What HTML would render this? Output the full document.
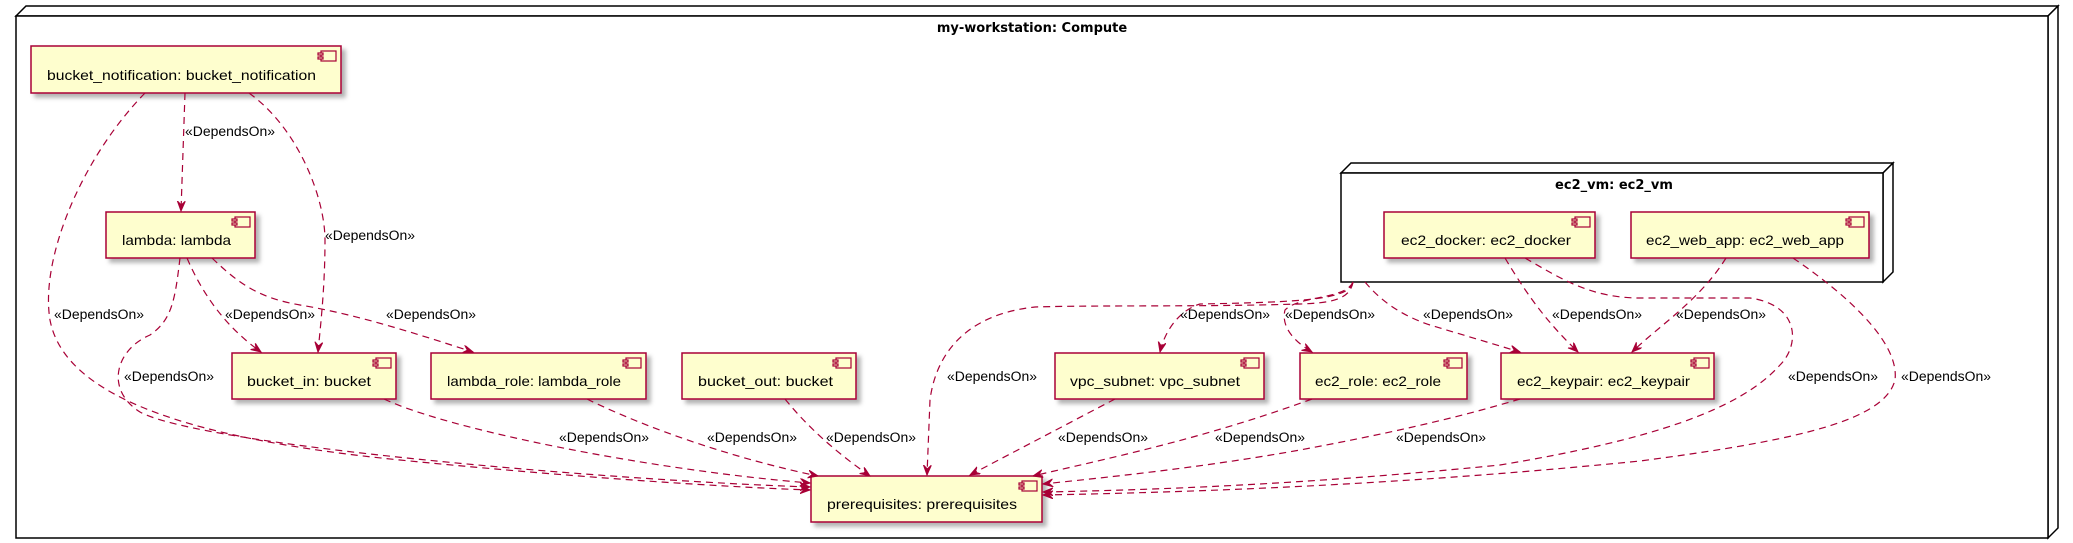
<!DOCTYPE html>
<html><head><meta charset="utf-8"><style>
html,body{margin:0;padding:0;background:#fff;}
svg{display:block;}
.t{font-family:"Liberation Sans","DejaVu Sans",sans-serif;font-size:14px;fill:#000;}
.l{font-family:"Liberation Sans","DejaVu Sans",sans-serif;font-size:13.5px;fill:#000;}
.b{font-family:"DejaVu Sans","Liberation Sans",sans-serif;font-size:13px;font-weight:bold;fill:#000;}
.e{fill:none;stroke:#A80036;stroke-width:1.2;stroke-dasharray:7,5;marker-end:url(#ah);}
.box{fill:#FEFECE;stroke:#A80036;stroke-width:1.5;filter:url(#sh);}
.ic{fill:#FEFECE;stroke:#A80036;stroke-width:1.2;}
</style></head><body>
<svg width="2073" height="543" viewBox="0 0 2073 543" xmlns="http://www.w3.org/2000/svg">
<defs>
<filter id="sh" x="-5%" y="-10%" width="115%" height="140%"><feDropShadow dx="4" dy="4" stdDeviation="2" flood-color="#000" flood-opacity="0.3"/></filter>
<marker id="ah" markerUnits="userSpaceOnUse" markerWidth="12" markerHeight="10" refX="10" refY="4" orient="auto"><path d="M0,0 L10,4 L0,8 L4,4 z" fill="#A80036" stroke="#A80036" stroke-width="1"/></marker>
<symbol id="icon" overflow="visible"><rect class="ic" x="3" y="0" width="15" height="10"/><rect class="ic" x="0" y="2" width="5" height="2"/><rect class="ic" x="0" y="6" width="5" height="2"/></symbol>
</defs>
<!-- outer node -->
<polygon points="16,16 26,6 2058,6 2048,16" fill="#fff" stroke="#000" stroke-width="1.5"/>
<polygon points="2048,16 2058,6 2058,528 2048,538" fill="#fff" stroke="#000" stroke-width="1.5"/>
<rect x="16" y="16" width="2032" height="522" fill="#fff" stroke="#000" stroke-width="1.5"/>
<text class="b" x="1032" y="32" text-anchor="middle">my-workstation: Compute</text>
<!-- ec2_vm node -->
<polygon points="1341,173 1351,163 1893,163 1883,173" fill="#fff" stroke="#000" stroke-width="1.5"/>
<polygon points="1883,173 1893,163 1893,272 1883,282" fill="#fff" stroke="#000" stroke-width="1.5"/>
<rect x="1341" y="173" width="542" height="109" fill="#fff" stroke="#000" stroke-width="1.5"/>
<text class="b" x="1614" y="189" text-anchor="middle">ec2_vm: ec2_vm</text>

<!-- boxes -->
<g>
<rect class="box" x="31" y="46" width="310" height="47"/><use href="#icon" x="318" y="51"/>
<text class="t" x="47" y="80" textLength="269" lengthAdjust="spacingAndGlyphs">bucket_notification: bucket_notification</text>
<rect class="box" x="106" y="212" width="149" height="46"/><use href="#icon" x="232" y="217"/>
<text class="t" x="122" y="245" textLength="109" lengthAdjust="spacingAndGlyphs">lambda: lambda</text>
<rect class="box" x="232" y="353" width="164" height="46"/><use href="#icon" x="373" y="358"/>
<text class="t" x="247" y="386" textLength="124" lengthAdjust="spacingAndGlyphs">bucket_in: bucket</text>
<rect class="box" x="431" y="353" width="215" height="46"/><use href="#icon" x="623" y="358"/>
<text class="t" x="447" y="386" textLength="174" lengthAdjust="spacingAndGlyphs">lambda_role: lambda_role</text>
<rect class="box" x="682" y="353" width="174" height="46"/><use href="#icon" x="833" y="358"/>
<text class="t" x="698" y="386" textLength="135" lengthAdjust="spacingAndGlyphs">bucket_out: bucket</text>
<rect class="box" x="1055" y="353" width="209" height="46"/><use href="#icon" x="1241" y="358"/>
<text class="t" x="1070" y="386" textLength="170" lengthAdjust="spacingAndGlyphs">vpc_subnet: vpc_subnet</text>
<rect class="box" x="1300" y="353" width="167" height="46"/><use href="#icon" x="1444" y="358"/>
<text class="t" x="1315" y="386" textLength="126" lengthAdjust="spacingAndGlyphs">ec2_role: ec2_role</text>
<rect class="box" x="1501" y="353" width="213" height="46"/><use href="#icon" x="1691" y="358"/>
<text class="t" x="1517" y="386" textLength="173" lengthAdjust="spacingAndGlyphs">ec2_keypair: ec2_keypair</text>
<rect class="box" x="1384" y="212" width="211" height="46"/><use href="#icon" x="1572" y="217"/>
<text class="t" x="1401" y="245" textLength="170" lengthAdjust="spacingAndGlyphs">ec2_docker: ec2_docker</text>
<rect class="box" x="1631" y="212" width="238" height="46"/><use href="#icon" x="1846" y="217"/>
<text class="t" x="1646" y="245" textLength="198" lengthAdjust="spacingAndGlyphs">ec2_web_app: ec2_web_app</text>
<rect class="box" x="811" y="476" width="231" height="46"/><use href="#icon" x="1019" y="481"/>
<text class="t" x="827" y="509" textLength="190" lengthAdjust="spacingAndGlyphs">prerequisites: prerequisites</text>
</g>

<!-- edges -->
<path class="e" d="M185,93 L181,211"/>
<path class="e" d="M249,93 C300,130 325,200 325,240 C325,290 320,330 318,352"/>
<path class="e" d="M145,93 C80,160 40,260 50,320 C65,400 200,440 400,460 C600,480 750,488 810,490"/>
<path class="e" d="M180,258 C175,300 172,320 150,335 C115,350 105,390 140,412 C200,445 600,480 810,487"/>
<path class="e" d="M187,258 C205,300 230,330 261,352"/>
<path class="e" d="M212,258 C240,285 260,298 300,305 C360,315 420,335 473,352"/>
<path class="e" d="M384,399 C450,430 650,470 810,483"/>
<path class="e" d="M587,399 C650,430 740,460 818,476"/>
<path class="e" d="M785,399 C810,430 840,455 870,476"/>
<path class="e" d="M1353,282 C1350,300 1330,303 1300,304 C1200,307 1100,305 1035,307 C960,315 935,360 930,400 L927,475"/>
<path class="e" d="M1353,282 C1350,300 1300,302 1200,304 C1180,310 1165,330 1160,352"/>
<path class="e" d="M1353,282 C1345,300 1300,295 1285,310 C1280,330 1300,345 1312,352"/>
<path class="e" d="M1365,282 C1380,300 1400,315 1430,325 L1520,352"/>
<path class="e" d="M1115,399 L970,475"/>
<path class="e" d="M1312,399 C1200,440 1100,460 1033,476"/>
<path class="e" d="M1520,399 C1450,420 1380,435 1300,450 C1200,468 1100,478 1043,484"/>
<path class="e" d="M1505,258 C1530,300 1550,325 1578,352"/>
<path class="e" d="M1726,258 C1700,300 1660,325 1632,352"/>
<path class="e" d="M1525,258 C1560,278 1590,298 1640,298 L1750,298 C1800,305 1800,345 1780,365 C1740,410 1650,440 1500,465 C1300,485 1150,490 1043,492"/>
<path class="e" d="M1793,258 C1840,290 1900,340 1895,380 C1885,420 1800,440 1640,461 C1400,485 1200,492 1043,495"/>

<!-- labels -->
<g class="l">
<text x="185" y="136" textLength="90" lengthAdjust="spacingAndGlyphs">«DependsOn»</text>
<text x="325" y="240" textLength="90" lengthAdjust="spacingAndGlyphs">«DependsOn»</text>
<text x="54" y="319" textLength="90" lengthAdjust="spacingAndGlyphs">«DependsOn»</text>
<text x="225" y="319" textLength="90" lengthAdjust="spacingAndGlyphs">«DependsOn»</text>
<text x="386" y="319" textLength="90" lengthAdjust="spacingAndGlyphs">«DependsOn»</text>
<text x="124" y="381" textLength="90" lengthAdjust="spacingAndGlyphs">«DependsOn»</text>
<text x="559" y="442" textLength="90" lengthAdjust="spacingAndGlyphs">«DependsOn»</text>
<text x="707" y="442" textLength="90" lengthAdjust="spacingAndGlyphs">«DependsOn»</text>
<text x="826" y="442" textLength="90" lengthAdjust="spacingAndGlyphs">«DependsOn»</text>
<text x="947" y="381" textLength="90" lengthAdjust="spacingAndGlyphs">«DependsOn»</text>
<text x="1180" y="319" textLength="90" lengthAdjust="spacingAndGlyphs">«DependsOn»</text>
<text x="1285" y="319" textLength="90" lengthAdjust="spacingAndGlyphs">«DependsOn»</text>
<text x="1423" y="319" textLength="90" lengthAdjust="spacingAndGlyphs">«DependsOn»</text>
<text x="1552" y="319" textLength="90" lengthAdjust="spacingAndGlyphs">«DependsOn»</text>
<text x="1676" y="319" textLength="90" lengthAdjust="spacingAndGlyphs">«DependsOn»</text>
<text x="1058" y="442" textLength="90" lengthAdjust="spacingAndGlyphs">«DependsOn»</text>
<text x="1215" y="442" textLength="90" lengthAdjust="spacingAndGlyphs">«DependsOn»</text>
<text x="1396" y="442" textLength="90" lengthAdjust="spacingAndGlyphs">«DependsOn»</text>
<text x="1788" y="381" textLength="90" lengthAdjust="spacingAndGlyphs">«DependsOn»</text>
<text x="1901" y="381" textLength="90" lengthAdjust="spacingAndGlyphs">«DependsOn»</text>
</g>
</svg>
</body></html>
